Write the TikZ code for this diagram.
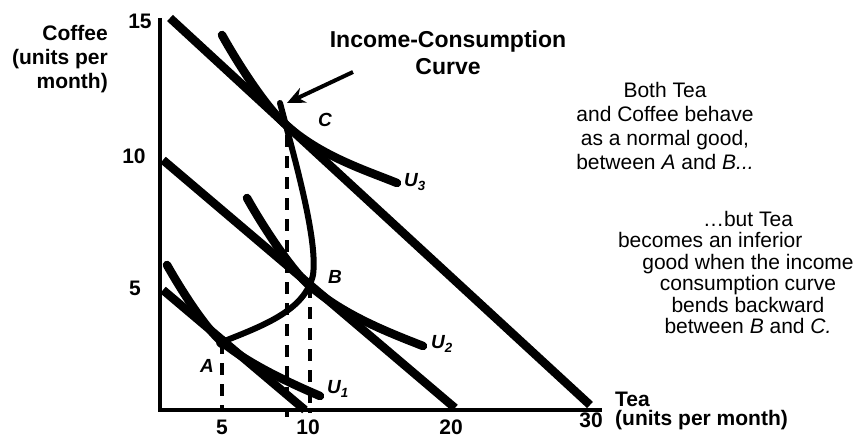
\documentclass[tikz,border=0pt]{standalone}
\usepackage{fontspec}
\setmainfont{Liberation Sans}
\usetikzlibrary{arrows.meta}

\begin{document}
\begin{tikzpicture}[x=1pt, y=-1pt, >={Stealth[length=18pt, width=16pt]},
  budget/.style={line width=8.5pt},
  indiff/.style={line width=8.5pt, line cap=round},
  guide/.style={line width=4pt, dash pattern=on 12pt off 9pt},
  axlabel/.style={font=\bfseries\fontsize{21}{24}\selectfont, inner sep=0pt},
  ptlabel/.style={font=\bfseries\itshape\fontsize{19}{22}\selectfont, inner sep=0pt},
  note/.style={font=\fontsize{21}{24}\selectfont, align=center, inner sep=0pt}]
  \useasboundingbox (0,0) rectangle (867,444);

  \coordinate (O) at (160,410);
  \coordinate (A) at (222,342);
  \coordinate (B) at (310,286);
  \coordinate (C) at (285,124);

  \draw[guide] (A) -- (A |- O);
  \draw[guide] (287,135) -- (287,417);
  \draw[guide] (B) -- (310,413);

  \draw[line width=4pt] (160,18) -- (O) -- (602,410);

  \draw[budget] (163,290) -- (305,410);
  \draw[budget] (163,160) -- (455,408);
  \draw[budget] (170,18) -- (590,405);

  \draw[indiff] (167,265) .. controls (180,288) and (205,328) .. (A) .. controls (250,365) and (290,383) .. (320,396);
  \draw[indiff] (247,198) .. controls (262,225) and (292,271) .. (B) .. controls (345,316) and (390,333) .. (423,346);
  \draw[indiff] (222,35) .. controls (237,62) and (265,106) .. (C) .. controls (320,156) and (365,170) .. (397,183);

  \draw[line width=6pt, line cap=round] (A) .. controls (265,325) and (305,310) .. (313,275) .. controls (318,240) and (295,160) .. (280,103);
  \fill (A) circle (6pt);

  \draw[->, line width=4pt] (353,72) -- (287,103);

  \node[font=\bfseries\fontsize{23}{27}\selectfont, align=center, inner sep=0pt, anchor=north] (icc) at (448,31) {Income-Consumption\\Curve};

  \node[axlabel, align=right, anchor=north east] (coffee) at (108,25) {Coffee\\(units per\\month)};
  \node[axlabel, font=\bfseries\fontsize{21}{19}\selectfont, align=left, anchor=north west] (tea) at (615,392) {Tea\\(units per month)};

  \node[axlabel] (y15) at (140,21) {15};
  \node[axlabel] (y10) at (134,156) {10};
  \node[axlabel] (y5) at (135,288) {5};
  \foreach \val/\xx in {5/222, 10/308, 20/451}
    \node[axlabel] (x\val) at (\xx,427) {\val};
  \node[axlabel] (x30) at (591,420) {30};

  \node[ptlabel] (lA) at (207,366) {A};
  \node[ptlabel] (lB) at (335,277) {B};
  \node[ptlabel] (lC) at (325,120) {C};
  \node[ptlabel] (u1) at (338,389) {U\textsubscript{1}};
  \node[ptlabel] (u2) at (442,344) {U\textsubscript{2}};
  \node[ptlabel] (u3) at (415,182) {U\textsubscript{3}};

  \node[note, anchor=north] (both) at (665,82) {Both Tea\\and Coffee behave\\as a normal good,\\between \textit{A} and \textit{B...}};
  \node[note, font=\fontsize{21}{21.4}\selectfont, anchor=north] (but) at (748,211) {…but Tea\\\makebox[260pt][l]{becomes an inferior}\\good when the income\\consumption curve\\bends backward\\between \textit{B} and \textit{C.}};
\end{tikzpicture}
\end{document}
